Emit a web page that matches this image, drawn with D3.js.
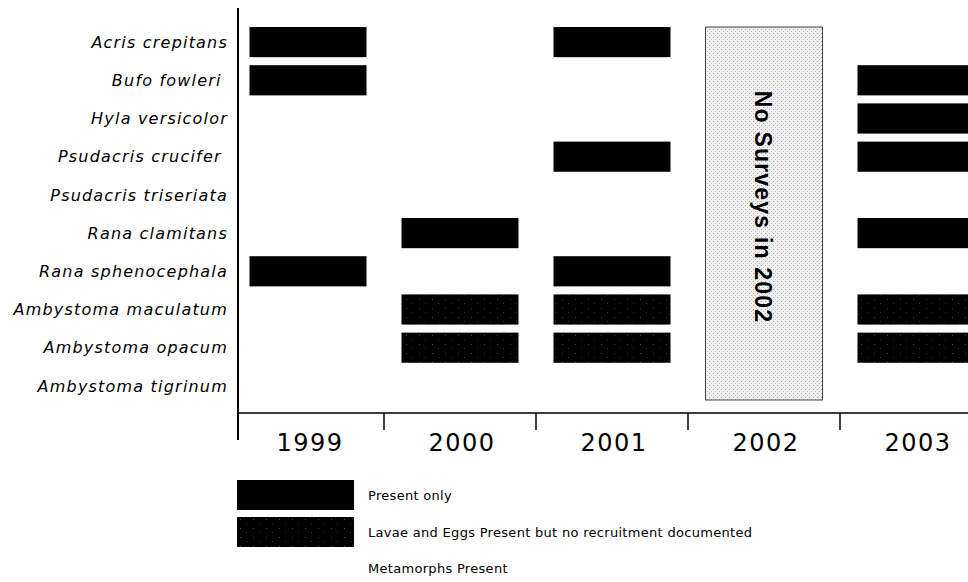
<!DOCTYPE html>
<html>
<head>
<meta charset="utf-8">
<script src="https://cdn.jsdelivr.net/npm/d3@7"></script>
<style>
  html, body { margin: 0; padding: 0; background: #fff; }
  svg { display: block; }
</style>
</head>
<body>
<div id="chart"></div>
<script>
// Amphibian presence by year, drawn as a grid of bars.

const species = [
  'Acris crepitans', 'Bufo fowleri ', 'Hyla versicolor', 'Psudacris crucifer ',
  'Psudacris triseriata', 'Rana clamitans', 'Rana sphenocephala',
  'Ambystoma maculatum', 'Ambystoma opacum', 'Ambystoma tigrinum'
];
const years = ['1999', '2000', '2001', '2002', '2003'];
const noSurveyYear = '2002';

// [species index, year, kind] kind: 'p' = present only, 'l' = larvae and eggs
const records = [
  [0, '1999', 'p'], [1, '1999', 'p'], [6, '1999', 'p'],
  [5, '2000', 'p'], [7, '2000', 'l'], [8, '2000', 'l'],
  [0, '2001', 'p'], [3, '2001', 'p'], [6, '2001', 'p'], [7, '2001', 'l'], [8, '2001', 'l'],
  [1, '2003', 'p'], [2, '2003', 'p'], [3, '2003', 'p'], [5, '2003', 'p'], [7, '2003', 'l'], [8, '2003', 'l']
];
const legendLabels = [
  'Present only',
  'Lavae and Eggs Present but no recruitment documented',
  'Metamorphs Present'
];

const W = 968, H = 582;
const axisX = 238, axisY = 413;
const barW = 117;

const svg = d3.select('#chart').append('svg')
  .attr('width', W).attr('height', H)
  .attr('viewBox', `0 0 ${W} ${H}`);

// patterns
const defs = svg.append('defs');
const speck = defs.append('pattern').attr('id', 'speck')
  .attr('patternUnits', 'userSpaceOnUse').attr('width', 13).attr('height', 9);
speck.append('rect').attr('width', 13).attr('height', 9).attr('fill', '#000');
speck.append('rect').attr('x', 3).attr('y', 2).attr('width', 1).attr('height', 1).attr('fill', '#444');
speck.append('rect').attr('x', 9).attr('y', 6).attr('width', 1).attr('height', 1).attr('fill', '#333');

const stip = defs.append('pattern').attr('id', 'stip')
  .attr('patternUnits', 'userSpaceOnUse').attr('width', 4).attr('height', 4);
stip.append('rect').attr('width', 4).attr('height', 4).attr('fill', '#f0f0f0');
stip.append('rect').attr('x', 1).attr('y', 1).attr('width', 1).attr('height', 1).attr('fill', '#a8a8a8');
stip.append('rect').attr('x', 3).attr('y', 3).attr('width', 1).attr('height', 1).attr('fill', '#c4c4c4');

// scales
const x = d3.scaleBand().domain(years).range([232, 992]);
const y = d3.scaleBand().domain(species).range([23, 405]).paddingInner(0.21).paddingOuter(0.105);

const barX = (yr) => x(yr) + (x.bandwidth() - barW) / 2;

// no-survey box
svg.append('rect')
  .attr('x', barX(noSurveyYear)).attr('y', y(species[0]))
  .attr('width', barW).attr('height', 400 - y(species[0]))
  .attr('fill', 'url(#stip)').attr('stroke', '#444').attr('stroke-width', 1);

svg.append('text')
  .attr('transform', `translate(${x(noSurveyYear) + x.bandwidth() / 2 - 1}, 207) rotate(90)`)
  .attr('text-anchor', 'middle').attr('dy', '0.35em')
  .style('font-family', '"Liberation Sans", Arial, sans-serif')
  .style('font-weight', 'bold').style('font-size', '23px').style('letter-spacing', '1.2px')
  .text('No Surveys in 2002');

// bars
svg.selectAll('.bar').data(records).enter().append('rect')
  .attr('class', 'bar')
  .attr('x', (d) => barX(d[1]))
  .attr('y', (d) => y(species[d[0]]))
  .attr('width', barW).attr('height', y.bandwidth())
  .attr('fill', (d) => d[2] === 'l' ? 'url(#speck)' : '#000');

// axes
svg.append('line').attr('x1', axisX).attr('x2', axisX).attr('y1', 8).attr('y2', 440)
  .attr('stroke', '#000').attr('stroke-width', 2);
svg.append('line').attr('x1', axisX).attr('x2', W).attr('y1', axisY).attr('y2', axisY)
  .attr('stroke', '#000').attr('stroke-width', 1.5);
svg.selectAll('.tick').data(years.slice(1)).enter().append('line')
  .attr('x1', (d) => x(d)).attr('x2', (d) => x(d))
  .attr('y1', axisY).attr('y2', axisY + 17)
  .attr('stroke', '#000').attr('stroke-width', 1.5);

svg.selectAll('.year').data(years).enter().append('text')
  .attr('x', (d) => x(d) + x.bandwidth() / 2 + 2).attr('y', 451)
  .attr('text-anchor', 'middle')
  .style('font-family', '"DejaVu Sans", Verdana, sans-serif')
  .style('font-size', '24px').style('letter-spacing', '1.5px')
  .text((d) => d);

// species labels
svg.selectAll('.sp').data(species).enter().append('text')
  .attr('x', 228).attr('y', (d) => y(d) + y.bandwidth() / 2)
  .attr('dy', '0.36em').attr('text-anchor', 'end')
  .attr('xml:space', 'preserve')
  .style('white-space', 'pre')
  .style('font-family', '"DejaVu Sans", Verdana, sans-serif')
  .style('font-style', 'italic').style('font-size', '16px').style('letter-spacing', '1.2px')
  .text((d) => d);

// legend
const legY = [480, 517, 553];
const legFill = ['#000', 'url(#speck)', 'none'];
const leg = svg.selectAll('.leg').data(legendLabels).enter().append('g')
  .attr('transform', (d, i) => `translate(237, ${legY[i]})`);
leg.append('rect').attr('width', barW).attr('height', 30)
  .attr('fill', (d, i) => legFill[i]);
leg.append('text').attr('x', 131).attr('y', 20)
  .style('font-family', '"DejaVu Sans", Verdana, sans-serif')
  .style('font-size', '13px').style('letter-spacing', '0.3px')
  .text((d) => d);
</script>
</body>
</html>
